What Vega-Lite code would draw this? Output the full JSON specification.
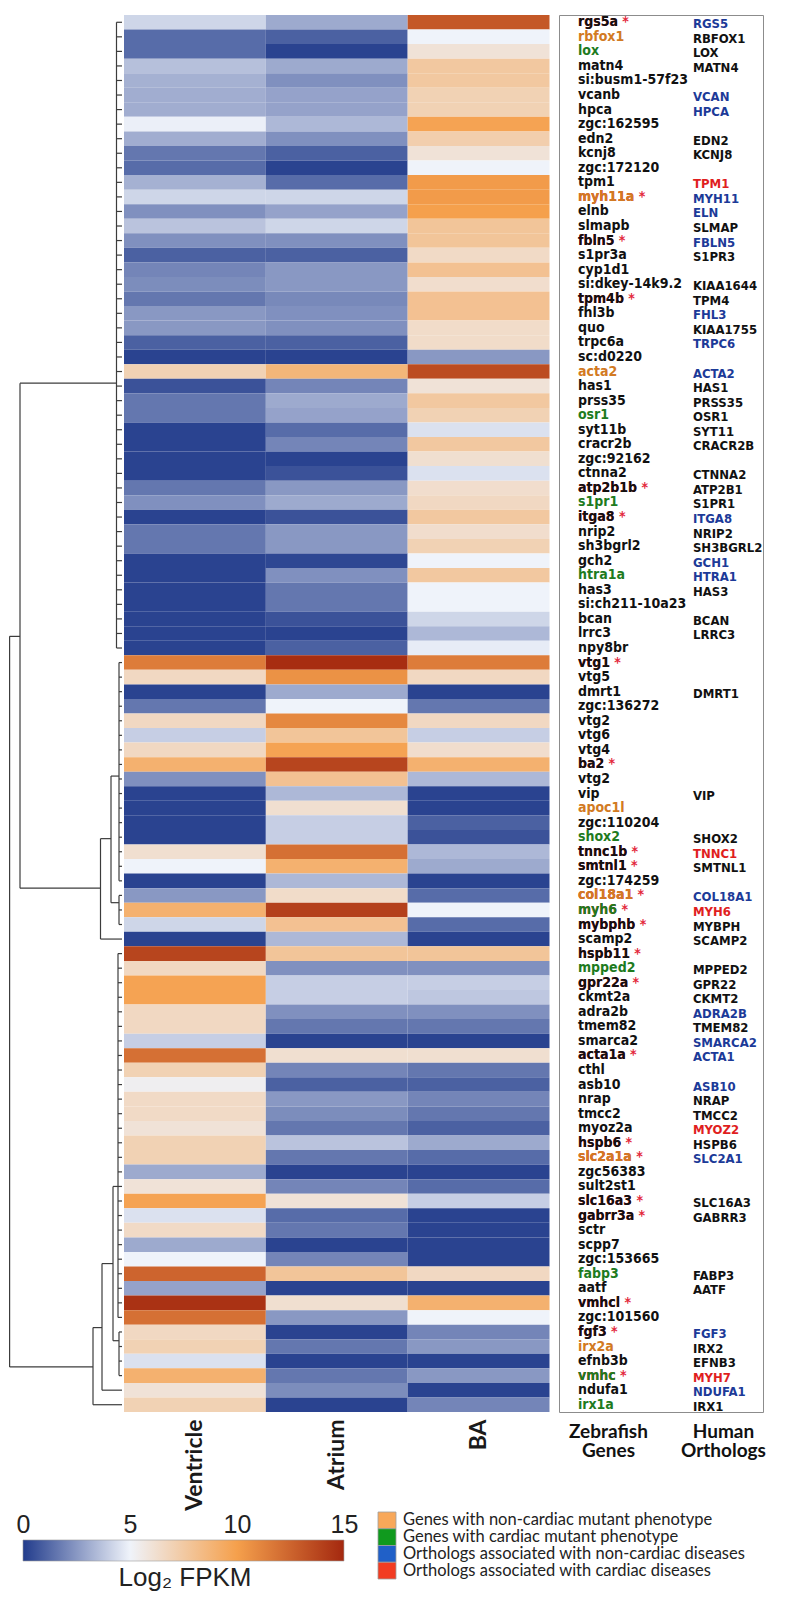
{
"$schema": "https://vega.github.io/schema/vega-lite/v6.json",
"padding": {"left": 8, "top": 14, "right": 0, "bottom": 0},
"background": "white",
"config": {"view": {"stroke": null}},
"datasets": {
"genes": [
{"i":1,"g":"rgs5a","s":1,"gc":"n","o":"RGS5","oc":"b","V":4.2,"A":3,"BA":13,"dh":5.5},
{"i":2,"g":"rbfox1","s":0,"gc":"o","o":"RBFOX1","oc":"n","V":1.3,"A":1,"BA":5,"dh":5.5},
{"i":3,"g":"lox","s":0,"gc":"g","o":"LOX","oc":"n","V":1.3,"A":0.2,"BA":6,"dh":5.5},
{"i":4,"g":"matn4","s":0,"gc":"n","o":"MATN4","oc":"n","V":3.6,"A":3,"BA":7.6,"dh":5.5},
{"i":5,"g":"si:busm1-57f23","s":0,"gc":"n","o":"","oc":"n","V":3.2,"A":2.3,"BA":7.6,"dh":5.5},
{"i":6,"g":"vcanb","s":0,"gc":"n","o":"VCAN","oc":"b","V":3.1,"A":2.8,"BA":7,"dh":5.5},
{"i":7,"g":"hpca","s":0,"gc":"n","o":"HPCA","oc":"b","V":3.1,"A":2.8,"BA":7,"dh":5.5},
{"i":8,"g":"zgc:162595","s":0,"gc":"n","o":"","oc":"n","V":4.9,"A":3.4,"BA":9.8,"dh":5.5},
{"i":9,"g":"edn2","s":0,"gc":"n","o":"EDN2","oc":"n","V":3.1,"A":2.3,"BA":7.2,"dh":5.5},
{"i":10,"g":"kcnj8","s":0,"gc":"n","o":"KCNJ8","oc":"n","V":1.6,"A":1,"BA":6,"dh":5.5},
{"i":11,"g":"zgc:172120","s":0,"gc":"n","o":"","oc":"n","V":1.3,"A":0.2,"BA":5,"dh":5.5},
{"i":12,"g":"tpm1","s":0,"gc":"n","o":"TPM1","oc":"r","V":3.2,"A":1.3,"BA":10.2,"dh":5.5},
{"i":13,"g":"myh11a","s":1,"gc":"o","o":"MYH11","oc":"b","V":4.2,"A":4.2,"BA":10.2,"dh":5.5},
{"i":14,"g":"elnb","s":0,"gc":"n","o":"ELN","oc":"b","V":2.3,"A":2.8,"BA":10,"dh":5.5},
{"i":15,"g":"slmapb","s":0,"gc":"n","o":"SLMAP","oc":"n","V":3.7,"A":4.2,"BA":7.8,"dh":5.5},
{"i":16,"g":"fbln5","s":1,"gc":"n","o":"FBLN5","oc":"b","V":2.3,"A":2.3,"BA":7.8,"dh":5.5},
{"i":17,"g":"s1pr3a","s":0,"gc":"n","o":"S1PR3","oc":"n","V":1,"A":1,"BA":6.5,"dh":5.5},
{"i":18,"g":"cyp1d1","s":0,"gc":"n","o":"","oc":"n","V":2,"A":2.5,"BA":8,"dh":5.5},
{"i":19,"g":"si:dkey-14k9.2","s":0,"gc":"n","o":"KIAA1644","oc":"n","V":2.2,"A":2.5,"BA":6.3,"dh":5.5},
{"i":20,"g":"tpm4b","s":1,"gc":"n","o":"TPM4","oc":"n","V":1.6,"A":2.1,"BA":8,"dh":5.5},
{"i":21,"g":"fhl3b","s":0,"gc":"n","o":"FHL3","oc":"b","V":2.5,"A":2.3,"BA":8,"dh":5.5},
{"i":22,"g":"quo","s":0,"gc":"n","o":"KIAA1755","oc":"n","V":2.5,"A":2.3,"BA":6.4,"dh":5.5},
{"i":23,"g":"trpc6a","s":0,"gc":"n","o":"TRPC6","oc":"b","V":1,"A":1,"BA":6.4,"dh":5.5},
{"i":24,"g":"sc:d0220","s":0,"gc":"n","o":"","oc":"n","V":0.2,"A":0.2,"BA":2.5,"dh":5.5},
{"i":25,"g":"acta2","s":0,"gc":"o","o":"ACTA2","oc":"b","V":7,"A":8.7,"BA":13.5,"dh":5.5},
{"i":26,"g":"has1","s":0,"gc":"n","o":"HAS1","oc":"n","V":0.6,"A":2,"BA":6,"dh":5.5},
{"i":27,"g":"prss35","s":0,"gc":"n","o":"PRSS35","oc":"n","V":1.6,"A":3,"BA":7.6,"dh":5.5},
{"i":28,"g":"osr1","s":0,"gc":"g","o":"OSR1","oc":"n","V":1.6,"A":2.8,"BA":7,"dh":5.5},
{"i":29,"g":"syt11b","s":0,"gc":"n","o":"SYT11","oc":"n","V":0.2,"A":1.3,"BA":4.5,"dh":5.5},
{"i":30,"g":"cracr2b","s":0,"gc":"n","o":"CRACR2B","oc":"n","V":0.2,"A":2,"BA":7.6,"dh":5.5},
{"i":31,"g":"zgc:92162","s":0,"gc":"n","o":"","oc":"n","V":0.2,"A":0.2,"BA":6.2,"dh":5.5},
{"i":32,"g":"ctnna2","s":0,"gc":"n","o":"CTNNA2","oc":"n","V":0.2,"A":0.6,"BA":4.5,"dh":5.5},
{"i":33,"g":"atp2b1b","s":1,"gc":"n","o":"ATP2B1","oc":"n","V":1.6,"A":2.5,"BA":6.3,"dh":5.5},
{"i":34,"g":"s1pr1","s":0,"gc":"g","o":"S1PR1","oc":"n","V":2.3,"A":3,"BA":6.6,"dh":5.5},
{"i":35,"g":"itga8","s":1,"gc":"n","o":"ITGA8","oc":"b","V":0.2,"A":0.6,"BA":7.6,"dh":5.5},
{"i":36,"g":"nrip2","s":0,"gc":"n","o":"NRIP2","oc":"n","V":1.6,"A":2.5,"BA":6.3,"dh":5.5},
{"i":37,"g":"sh3bgrl2","s":0,"gc":"n","o":"SH3BGRL2","oc":"n","V":1.6,"A":2.5,"BA":7,"dh":5.5},
{"i":38,"g":"gch2","s":0,"gc":"n","o":"GCH1","oc":"b","V":0.2,"A":0.3,"BA":5,"dh":5.5},
{"i":39,"g":"htra1a","s":0,"gc":"g","o":"HTRA1","oc":"b","V":0.2,"A":2.3,"BA":7.6,"dh":5.5},
{"i":40,"g":"has3","s":0,"gc":"n","o":"HAS3","oc":"n","V":0.2,"A":1.6,"BA":5,"dh":5.5},
{"i":41,"g":"si:ch211-10a23","s":0,"gc":"n","o":"","oc":"n","V":0.2,"A":1.6,"BA":5,"dh":5.5},
{"i":42,"g":"bcan","s":0,"gc":"n","o":"BCAN","oc":"n","V":0.2,"A":0.6,"BA":4.2,"dh":5.5},
{"i":43,"g":"lrrc3","s":0,"gc":"n","o":"LRRC3","oc":"n","V":0.2,"A":0.2,"BA":3.4,"dh":5.5},
{"i":44,"g":"npy8br","s":0,"gc":"n","o":"","oc":"n","V":0.2,"A":1,"BA":4.8,"dh":5.5},
{"i":45,"g":"vtg1","s":1,"gc":"n","o":"","oc":"n","V":11.5,"A":14.8,"BA":11.5,"dh":3},
{"i":46,"g":"vtg5","s":0,"gc":"n","o":"","oc":"n","V":6.6,"A":10.6,"BA":6.6,"dh":3},
{"i":47,"g":"dmrt1","s":0,"gc":"n","o":"DMRT1","oc":"n","V":0.2,"A":3,"BA":0.2,"dh":3},
{"i":48,"g":"zgc:136272","s":0,"gc":"n","o":"","oc":"n","V":1.6,"A":5,"BA":1.6,"dh":3},
{"i":49,"g":"vtg2","s":0,"gc":"n","o":"","oc":"n","V":6.6,"A":11,"BA":6.6,"dh":3},
{"i":50,"g":"vtg6","s":0,"gc":"n","o":"","oc":"n","V":4,"A":7.8,"BA":4,"dh":3},
{"i":51,"g":"vtg4","s":0,"gc":"n","o":"","oc":"n","V":6.6,"A":9.8,"BA":6.3,"dh":3},
{"i":52,"g":"ba2","s":1,"gc":"n","o":"","oc":"n","V":9,"A":13.8,"BA":9,"dh":3},
{"i":53,"g":"vtg2","s":0,"gc":"n","o":"","oc":"n","V":2.3,"A":8,"BA":3.4,"dh":3},
{"i":54,"g":"vip","s":0,"gc":"n","o":"VIP","oc":"n","V":0.2,"A":3.4,"BA":0.2,"dh":3},
{"i":55,"g":"apoc1l","s":0,"gc":"o","o":"","oc":"n","V":0.2,"A":6.2,"BA":0.2,"dh":3},
{"i":56,"g":"zgc:110204","s":0,"gc":"n","o":"","oc":"n","V":0.2,"A":4,"BA":1,"dh":3},
{"i":57,"g":"shox2","s":0,"gc":"g","o":"SHOX2","oc":"n","V":0.2,"A":4,"BA":0.6,"dh":3},
{"i":58,"g":"tnnc1b","s":1,"gc":"n","o":"TNNC1","oc":"r","V":6.2,"A":12,"BA":3.4,"dh":3},
{"i":59,"g":"smtnl1","s":1,"gc":"n","o":"SMTNL1","oc":"n","V":5,"A":9,"BA":3,"dh":3},
{"i":60,"g":"zgc:174259","s":0,"gc":"n","o":"","oc":"n","V":0.2,"A":3.4,"BA":0.2,"dh":3},
{"i":61,"g":"col18a1","s":1,"gc":"o","o":"COL18A1","oc":"b","V":2.5,"A":6.4,"BA":1.3,"dh":3},
{"i":62,"g":"myh6","s":1,"gc":"g","o":"MYH6","oc":"r","V":9,"A":14,"BA":5,"dh":3},
{"i":63,"g":"mybphb","s":1,"gc":"n","o":"MYBPH","oc":"n","V":4.2,"A":8,"BA":1.3,"dh":3},
{"i":64,"g":"scamp2","s":0,"gc":"n","o":"SCAMP2","oc":"n","V":0.2,"A":3.4,"BA":0.2,"dh":21.5},
{"i":65,"g":"hspb11","s":1,"gc":"n","o":"","oc":"n","V":13.8,"A":7.8,"BA":7.8,"dh":4},
{"i":66,"g":"mpped2","s":0,"gc":"g","o":"MPPED2","oc":"n","V":6.6,"A":2.3,"BA":2.3,"dh":4},
{"i":67,"g":"gpr22a","s":1,"gc":"n","o":"GPR22","oc":"n","V":9.8,"A":4,"BA":4,"dh":4},
{"i":68,"g":"ckmt2a","s":0,"gc":"n","o":"CKMT2","oc":"n","V":9.8,"A":4,"BA":3.8,"dh":4},
{"i":69,"g":"adra2b","s":0,"gc":"n","o":"ADRA2B","oc":"b","V":6.6,"A":2.3,"BA":2.3,"dh":4},
{"i":70,"g":"tmem82","s":0,"gc":"n","o":"TMEM82","oc":"n","V":6.6,"A":1.6,"BA":1.6,"dh":4},
{"i":71,"g":"smarca2","s":0,"gc":"n","o":"SMARCA2","oc":"b","V":4,"A":0.2,"BA":0.2,"dh":4},
{"i":72,"g":"acta1a","s":1,"gc":"n","o":"ACTA1","oc":"b","V":12,"A":6.2,"BA":6.2,"dh":4},
{"i":73,"g":"cthl","s":0,"gc":"n","o":"","oc":"n","V":7,"A":2,"BA":1.6,"dh":4},
{"i":74,"g":"asb10","s":0,"gc":"n","o":"ASB10","oc":"b","V":5.3,"A":1,"BA":1,"dh":4},
{"i":75,"g":"nrap","s":0,"gc":"n","o":"NRAP","oc":"n","V":6.5,"A":2.5,"BA":2,"dh":4},
{"i":76,"g":"tmcc2","s":0,"gc":"n","o":"TMCC2","oc":"n","V":6.5,"A":2.2,"BA":1.6,"dh":4},
{"i":77,"g":"myoz2a","s":0,"gc":"n","o":"MYOZ2","oc":"r","V":6,"A":1.6,"BA":1,"dh":4},
{"i":78,"g":"hspb6","s":1,"gc":"n","o":"HSPB6","oc":"n","V":7,"A":3.7,"BA":3,"dh":4},
{"i":79,"g":"slc2a1a","s":1,"gc":"o","o":"SLC2A1","oc":"b","V":7,"A":1.6,"BA":1.3,"dh":4},
{"i":80,"g":"zgc56383","s":0,"gc":"n","o":"","oc":"n","V":3,"A":0.2,"BA":0.2,"dh":4},
{"i":81,"g":"sult2st1","s":0,"gc":"n","o":"","oc":"n","V":6,"A":2,"BA":1.3,"dh":4},
{"i":82,"g":"slc16a3","s":1,"gc":"n","o":"SLC16A3","oc":"n","V":9.8,"A":6,"BA":4,"dh":4},
{"i":83,"g":"gabrr3a","s":1,"gc":"n","o":"GABRR3","oc":"n","V":4.5,"A":1.3,"BA":0.2,"dh":4},
{"i":84,"g":"sctr","s":0,"gc":"n","o":"","oc":"n","V":6.5,"A":1.6,"BA":0.2,"dh":4},
{"i":85,"g":"scpp7","s":0,"gc":"n","o":"","oc":"n","V":3,"A":0.2,"BA":0.2,"dh":4},
{"i":86,"g":"zgc:153665","s":0,"gc":"n","o":"","oc":"n","V":5,"A":2,"BA":0.2,"dh":4},
{"i":87,"g":"fabp3","s":0,"gc":"g","o":"FABP3","oc":"n","V":12.5,"A":7.8,"BA":6.6,"dh":4},
{"i":88,"g":"aatf","s":0,"gc":"n","o":"AATF","oc":"n","V":2.8,"A":0.2,"BA":0.2,"dh":4},
{"i":89,"g":"vmhcl","s":1,"gc":"n","o":"","oc":"n","V":14.6,"A":6.2,"BA":9,"dh":4},
{"i":90,"g":"zgc:101560","s":0,"gc":"n","o":"","oc":"n","V":12,"A":2.5,"BA":5,"dh":4},
{"i":91,"g":"fgf3","s":1,"gc":"n","o":"FGF3","oc":"b","V":6.6,"A":0.2,"BA":2,"dh":3},
{"i":92,"g":"irx2a","s":0,"gc":"o","o":"IRX2","oc":"n","V":7,"A":1.6,"BA":2.5,"dh":3},
{"i":93,"g":"efnb3b","s":0,"gc":"n","o":"EFNB3","oc":"n","V":4.5,"A":0.2,"BA":0.2,"dh":3},
{"i":94,"g":"vmhc","s":1,"gc":"g","o":"MYH7","oc":"r","V":9,"A":1.6,"BA":2.5,"dh":3},
{"i":95,"g":"ndufa1","s":0,"gc":"n","o":"NDUFA1","oc":"b","V":6,"A":2.2,"BA":0.2,"dh":20},
{"i":96,"g":"irx1a","s":0,"gc":"g","o":"IRX1","oc":"n","V":7,"A":0.2,"BA":2,"dh":29}
],
"tree": [
{"x1":112.4,"x2":112.4,"y1":42.7,"y2":92.9},
{"x1":112.4,"x2":102,"y1":42.7,"y2":42.7},
{"x1":102,"x2":102,"y1":25.3,"y2":60},
{"x1":102,"x2":5.5,"y1":25.3,"y2":25.3},
{"x1":5.5,"x2":5.5,"y1":0.5,"y2":43.5},
{"x1":102,"x2":21.5,"y1":60,"y2":60},
{"x1":21.5,"x2":21.5,"y1":56.6,"y2":63.5},
{"x1":21.5,"x2":11,"y1":56.6,"y2":56.6},
{"x1":11,"x2":11,"y1":52.3,"y2":61},
{"x1":11,"x2":3,"y1":52.3,"y2":52.3},
{"x1":3,"x2":3,"y1":44.5,"y2":59.5},
{"x1":11,"x2":3,"y1":61,"y2":61},
{"x1":3,"x2":3,"y1":60.5,"y2":62.5},
{"x1":112.4,"x2":29,"y1":92.9,"y2":92.9},
{"x1":29,"x2":29,"y1":90.2,"y2":95.5},
{"x1":29,"x2":20,"y1":90.2,"y2":90.2},
{"x1":20,"x2":20,"y1":85.8,"y2":94.5},
{"x1":20,"x2":9,"y1":85.8,"y2":85.8},
{"x1":9,"x2":9,"y1":80.5,"y2":91.1},
{"x1":9,"x2":4,"y1":80.5,"y2":80.5},
{"x1":4,"x2":4,"y1":64.5,"y2":89.5},
{"x1":9,"x2":3,"y1":91.1,"y2":91.1},
{"x1":3,"x2":3,"y1":90.5,"y2":93.5}
],
"cats": [
{"c":"Genes with non-cardiac mutant phenotype"},
{"c":"Genes with cardiac mutant phenotype"},
{"c":"Orthologs associated with non-cardiac diseases"},
{"c":"Orthologs associated with cardiac diseases"}
]
},
"spacing": 0,
"resolve": {"scale": {"color": "independent", "fill": "independent"}},
"vconcat": [
{
"spacing": 0,
"resolve": {"scale": {"color": "independent"}},
"hconcat": [
{
"width": 114.5, "height": 1397,
"layer": [
{"data": {"name": "tree"},
 "mark": {"type": "rule", "color": "#3c3c3c", "strokeWidth": 1.2},
 "encoding": {
  "x": {"field": "x1", "type": "quantitative", "scale": {"domain": [113, -1.5], "nice": false, "zero": false}, "axis": null},
  "x2": {"field": "x2"},
  "y": {"field": "y1", "type": "quantitative", "scale": {"domain": [0, 96], "reverse": true, "nice": false, "zero": false}, "axis": null},
  "y2": {"field": "y2"}
 }},
{"data": {"name": "genes"},
 "mark": {"type": "rule", "color": "#3c3c3c", "strokeWidth": 1.2},
 "encoding": {
  "x": {"field": "dh", "type": "quantitative", "scale": {"domain": [113, -1.5], "nice": false, "zero": false}, "axis": null},
  "x2": {"datum": 0},
  "y": {"field": "i", "type": "ordinal", "axis": null}
 }}
],
"resolve": {"scale": {"y": "independent"}}
},
{
"width": 433.5, "height": 1397,
"data": {"name": "genes"},
"transform": [{"fold": ["V", "A", "BA"], "as": ["col", "val"]}],
"mark": {"type": "rect"},
"encoding": {
 "x": {"field": "col", "type": "nominal", "sort": ["V", "A", "BA"], "scale": {"paddingInner": 0, "paddingOuter": 0, "range": [0, 425.5]},
  "axis": {"title": null, "domain": false, "ticks": false, "labelAngle": -90, "labelPadding": 7, "labelFont": "Lato", "labelFontWeight": "bold", "labelFontSize": 23, "labelColor": "#1a1a1a",
   "labelExpr": "datum.value == 'V' ? 'Ventricle' : datum.value == 'A' ? 'Atrium' : 'BA'"}},
 "y": {"field": "i", "type": "ordinal", "axis": null, "scale": {"paddingInner": 0, "paddingOuter": 0}},
 "color": {"field": "val", "type": "quantitative", "legend": null,
  "scale": {"domain": [0, 5, 10, 15], "range": ["#223c8c", "#eff3fa", "#f5a04c", "#a4280f"], "interpolate": "rgb", "clamp": true}}
}
},
{
"width": 204, "height": 1397,
"view": {"stroke": "#8c8c8c", "strokeWidth": 1},
"data": {"name": "genes"},
"layer": [
{"transform": [{"filter": "datum.s == 1"}, {"calculate": "datum.g + ' *'", "as": "gs"}],
 "mark": {"type": "text", "align": "left", "baseline": "middle", "dx": -30, "font": "Liberation Sans Narrow, Arial Narrow, DejaVu Sans Condensed, sans-serif", "fontWeight": "bold", "fontSize": 14, "color": "#e3283c"},
 "encoding": {
  "x": {"datum": "Zebrafish Genes", "type": "nominal", "scale": {"domain": ["Zebrafish Genes", "Human Orthologs"], "padding": 0.387, "align": 0.55},
   "axis": {"title": null, "domain": false, "ticks": false, "labelAngle": 0, "labelPadding": 10, "labelFont": "Lato", "labelFontWeight": "bold", "labelFontSize": 19, "labelLineHeight": 19, "labelColor": "#111", "labelExpr": "split(datum.label, ' ')"}},
  "y": {"field": "i", "type": "ordinal", "axis": null},
  "text": {"field": "gs"}
 }},
{"mark": {"type": "text", "align": "left", "baseline": "middle", "dx": -30, "font": "Liberation Sans Narrow, Arial Narrow, DejaVu Sans Condensed, sans-serif", "fontWeight": "bold", "fontSize": 14},
 "encoding": {
  "x": {"datum": "Zebrafish Genes", "type": "nominal", "scale": {"domain": ["Zebrafish Genes", "Human Orthologs"], "padding": 0.387, "align": 0.55},
   "axis": {"title": null, "domain": false, "ticks": false, "labelAngle": 0, "labelPadding": 10, "labelFont": "Lato", "labelFontWeight": "bold", "labelFontSize": 19, "labelLineHeight": 19, "labelColor": "#111", "labelExpr": "split(datum.label, ' ')"}},
  "y": {"field": "i", "type": "ordinal", "axis": null},
  "text": {"field": "g"},
  "color": {"field": "gc", "type": "nominal", "legend": null, "scale": {"domain": ["n", "o", "g", "b", "r"], "range": ["#111111", "#d27a22", "#1e7b1e", "#1c3a98", "#e01e1e"]}}
 }},
{"mark": {"type": "text", "align": "left", "baseline": "middle", "dx": -30, "dy": 2, "font": "Liberation Sans Narrow, Arial Narrow, DejaVu Sans Condensed, sans-serif", "fontWeight": "bold", "fontSize": 13},
 "encoding": {
  "x": {"datum": "Human Orthologs", "type": "nominal", "scale": {"domain": ["Zebrafish Genes", "Human Orthologs"], "padding": 0.387, "align": 0.55},
   "axis": {"title": null, "domain": false, "ticks": false, "labelAngle": 0, "labelPadding": 10, "labelFont": "Lato", "labelFontWeight": "bold", "labelFontSize": 19, "labelLineHeight": 19, "labelColor": "#111", "labelExpr": "split(datum.label, ' ')"}},
  "y": {"field": "i", "type": "ordinal", "axis": null},
  "text": {"field": "o"},
  "color": {"field": "oc", "type": "nominal", "legend": null, "scale": {"domain": ["n", "o", "g", "b", "r"], "range": ["#111111", "#d27a22", "#1e7b1e", "#1c3a98", "#e01e1e"]}}
 }}
]
}
]
},
{
"spacing": 8,
"resolve": {"scale": {"fill": "independent"}},
"hconcat": [
{
"width": 360, "height": 49,
"data": {"values": [{"lo": 0, "hi": 15}]},
"title": {"text": "Log₂ FPKM", "orient": "bottom", "fontSize": 26, "font": "Liberation Sans", "fontWeight": "normal", "color": "#222", "offset": 4, "dx": -4},
"mark": {"type": "rect", "stroke": "#9a9a9a", "strokeWidth": 0.6,
 "fill": {"gradient": "linear", "x1": 0, "y1": 0, "x2": 1, "y2": 0, "stops": [
  {"offset": 0, "color": "#223c8c"}, {"offset": 0.3333, "color": "#eff3fa"}, {"offset": 0.6667, "color": "#f5a04c"}, {"offset": 1, "color": "#a4280f"}]}},
"encoding": {
 "x": {"field": "lo", "type": "quantitative", "scale": {"domain": [-0.654, 16.17], "nice": false, "zero": false},
  "axis": {"orient": "top", "values": [0, 5, 10, 15], "title": null, "domain": false, "ticks": false, "tickSize": 0, "grid": false, "labelPadding": -25, "labelFont": "Liberation Sans", "labelFontSize": 25, "labelColor": "#222", "labelFlush": false}},
 "x2": {"field": "hi"},
 "y": {"datum": 0, "type": "quantitative", "scale": {"domain": [0, 2.333], "nice": false, "zero": false}, "axis": null},
 "y2": {"datum": 1}
}
},
{
"width": 380, "height": 67,
"data": {"name": "cats"},
"layer": [
{"mark": {"type": "rect", "stroke": "#a0a0a0", "strokeWidth": 0.8},
 "encoding": {
  "x": {"datum": 0, "type": "quantitative", "scale": {"domain": [0, 21.11], "nice": false, "zero": false}, "axis": null},
  "x2": {"datum": 1},
  "y": {"field": "c", "type": "nominal", "sort": null, "axis": null, "scale": {"paddingInner": 0, "paddingOuter": 0}},
  "fill": {"field": "c", "type": "nominal", "sort": null, "legend": null, "scale": {"range": ["#f8a85a", "#109a1e", "#2060c8", "#f23c22"]}}
 }},
{"mark": {"type": "text", "align": "left", "baseline": "middle", "dx": 7, "font": "Lato", "fontSize": 16.5, "color": "#222"},
 "encoding": {
  "x": {"datum": 1, "type": "quantitative", "scale": {"domain": [0, 21.11], "nice": false, "zero": false}, "axis": null},
  "y": {"field": "c", "type": "nominal", "sort": null, "axis": null},
  "text": {"field": "c"}
 }}
]
}
]
}
]
}
